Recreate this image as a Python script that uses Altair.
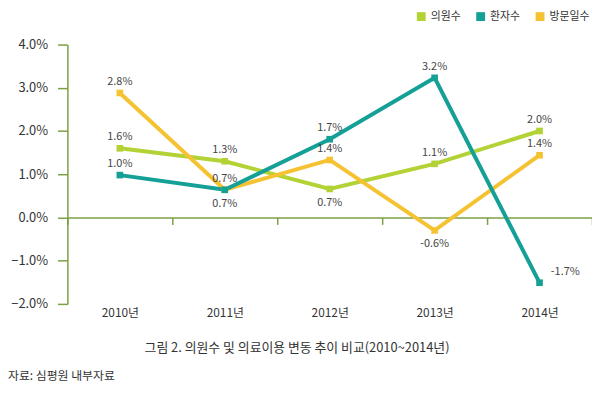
import altair as alt
import pandas as pd

years = ["2010년", "2011년", "2012년", "2013년", "2014년"]
series = ["의원수", "환자수", "방문일수"]

clinic_vals = [1.6, 1.3, 0.66, 1.24, 2.0]
clinic_labels = ["1.6%", "1.3%", "0.7%", "1.1%", "2.0%"]
clinic_place = ["above", "above", "below", "above", "above"]

patient_vals = [0.98, 0.64, 1.81, 3.23, -1.51]
patient_labels = ["1.0%", "0.7%", "1.7%", "3.2%", "-1.7%"]
patient_place = ["above", "below", "above", "above", "right"]

visit_vals = [2.88, 0.64, 1.33, -0.30, 1.44]
visit_labels = ["2.8%", "0.7%", "1.4%", "-0.6%", "1.4%"]
visit_place = ["above", "above", "above", "below", "above"]

y_ticks = [-2, -1, 0, 1, 2, 3, 4]
caption = "그림 2. 의원수 및 의료이용 변동 추이 비교(2010~2014년)"
source_note = "자료: 심평원 내부자료"

colors = ["#B2D235", "#14A096", "#F5C232"]
FONT = "Noto Sans CJK KR"

rows = []
for name, vals, labs, places in [
    ("의원수", clinic_vals, clinic_labels, clinic_place),
    ("방문일수", visit_vals, visit_labels, visit_place),
    ("환자수", patient_vals, patient_labels, patient_place),
]:
    for yr, v, l, p in zip(years, vals, labs, places):
        rows.append({"year": yr, "series": name, "value": v, "label": l, "place": p})
df = pd.DataFrame(rows)

H = 262
W = 530
zero_offset = -H * 4 / 6 / 2

x_enc = alt.X(
    "year:N",
    sort=years,
    scale=alt.Scale(paddingInner=0, paddingOuter=0),
    axis=alt.Axis(
        title=None,
        offset=zero_offset,
        tickBand="extent",
        domainColor="#7BA043",
        domainWidth=1.5,
        tickColor="#7BA043",
        tickWidth=1.5,
        tickSize=7,
        labelPadding=84,
        labelFont=FONT,
        labelFontSize=12,
        labelColor="#333333",
        labelAngle=0,
        grid=False,
    ),
)
y_enc = alt.Y(
    "value:Q",
    scale=alt.Scale(domain=[-2, 4], nice=False, zero=False),
    axis=alt.Axis(
        title=None,
        values=y_ticks,
        labelExpr="format(datum.value, '.1f') + '%'",
        domainColor="#7BA043",
        domainWidth=1.5,
        tickColor="#7BA043",
        tickWidth=1.5,
        tickSize=10,
        labelPadding=10,
        labelFont=FONT,
        labelFontSize=13,
        labelColor="#333333",
        grid=False,
    ),
)
legend = alt.Legend(
    title=None,
    orient="none",
    legendX=352,
    legendY=-34,
    direction="horizontal",
    symbolType="square",
    symbolSize=80,
    symbolStrokeWidth=0,
    symbolOpacity=1,
    labelFont=FONT,
    labelFontSize=11,
    labelColor="#333333",
    columnPadding=14,
    labelOffset=4,
)
color_enc = alt.Color(
    "series:N", scale=alt.Scale(domain=series, range=colors), sort=series, legend=legend
)

base = alt.Chart(df)

lines = base.mark_line(strokeWidth=4).encode(x=x_enc, y=y_enc, color=color_enc)
points = base.mark_point(shape="square", filled=True, size=45, opacity=1).encode(
    x=x_enc, y=y_enc, color=color_enc
)

def label_layer(place, dx, dy):
    return base.mark_text(
        dx=dx, dy=dy, font=FONT, fontSize=11, color="#444444"
    ).encode(x=x_enc, y=y_enc, text="label:N").transform_filter(
        alt.datum.place == place
    )

texts = label_layer("above", 0, -11) + label_layer("below", 0, 14) + label_layer("right", 26, -11)

notes = pd.DataFrame({"t": [caption]})
cap = alt.Chart(notes).mark_text(
    align="center", baseline="middle", font=FONT, fontSize=13, color="#333333"
).encode(text="t:N", x=alt.value(232), y=alt.value(307))

src = alt.Chart(pd.DataFrame({"t": [source_note]})).mark_text(
    align="left", baseline="middle", font=FONT, fontSize=12, color="#333333"
).encode(text="t:N", x=alt.value(-60), y=alt.value(335))

chart = (
    alt.layer(lines, points, texts, cap, src)
    .properties(
        width=W,
        height=H,
        padding={"left": 60, "top": 35, "right": 0, "bottom": 80},
        autosize=alt.AutoSizeParams(type="none"),
    )
    .configure_view(stroke=None)
)

chart.save("out.html", embed_options={"renderer": "svg", "actions": False})
